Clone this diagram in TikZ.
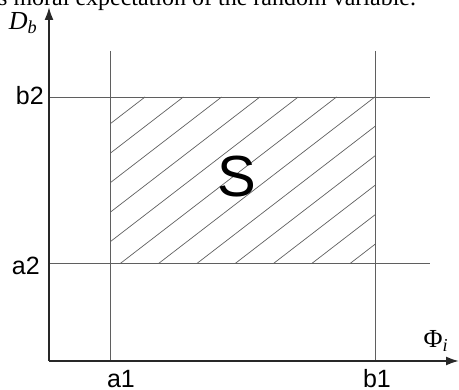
\documentclass[tikz,border=0pt]{standalone}
\usepackage{fontspec}
\setmainfont{Liberation Serif}
\newfontfamily\lblfont{Liberation Sans}
\usetikzlibrary{arrows.meta}
\definecolor{linegray}{RGB}{95,95,95}
\definecolor{axisgray}{RGB}{40,40,40}
\begin{document}
\begin{tikzpicture}[x=1pt, y=-1pt,
        plotaxis/.style={draw=axisgray, line width=1.9pt, -{Latex[length=13pt,width=9pt]}},
        gridline/.style={draw=linegray, line width=0.9pt},
        hatchline/.style={draw=linegray, line width=0.7pt},
        ticklbl/.style={font=\lblfont\fontsize{25}{25}\selectfont, inner sep=0pt},
        axislbl/.style={font=\fontsize{26}{26}\selectfont, inner sep=0pt}
      ]
      \useasboundingbox (0,0) rectangle (459,390);
      \def\xa{110}
      \def\xb{375}
      \def\ya{263}
      \def\yb{97}
      % caption line cut off at the top
      \node[font=\fontsize{24}{24}\selectfont, anchor=base west, inner sep=0pt]
        (cap) at (-2,6) {s moral expectation of the random variable.};
      % hatching inside S
      \begin{scope}
        \clip (\xa,\yb) rectangle (\xb,\ya);
        \foreach \k in {-1,...,12} {
          \draw[hatchline] ({145+38.3*\k},\yb) -- ({145+38.3*\k-260},{\yb+260*0.77});
        }
      \end{scope}
      % bounds
      \draw[gridline] (\xa,51) -- (\xa,361);
      \draw[gridline] (\xb,51) -- (\xb,361);
      \draw[gridline] (49,\yb) -- (430,\yb);
      \draw[gridline] (49,\ya) -- (430,\ya);
      % axes
      \coordinate (o) at (49,361);
      \coordinate (xend) at (459,361);
      \coordinate (yend) at (49,7);
      \draw[plotaxis] (o) -- (xend);
      \draw[plotaxis] (o) -- (yend);
      % labels
      \node[axislbl] (db) at (23,23) {\itshape D\textsubscript{\itshape b}};
      \node[axislbl] (phi) at (436,341) {Φ\textsubscript{\itshape i}};
      \node[ticklbl, anchor=east] (b2) at (44,96) {b2};
      \node[ticklbl, anchor=east] (a2) at (40,266) {a2};
      \node[ticklbl] (a1) at (121,379) {a1};
      \node[ticklbl] (b1) at (377,379) {b1};
      \node[font=\lblfont\fontsize{58}{58}\selectfont, inner sep=0pt] (s) at (237,177) {S};
    \end{tikzpicture}
\end{document}
